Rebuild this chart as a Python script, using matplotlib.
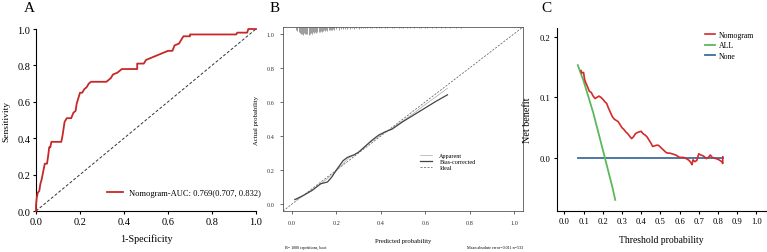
import matplotlib
matplotlib.use("Agg")
import matplotlib.pyplot as plt

plt.rcParams['font.family'] = ['Liberation Serif', 'DejaVu Serif']

# ---------------- Panel A: ROC ----------------
roc_fpr = [0.0, 0.0, 0.003, 0.008, 0.015, 0.02, 0.025, 0.03, 0.035, 0.04, 0.05, 0.055, 0.06, 0.065,
           0.07, 0.115, 0.12, 0.125, 0.13, 0.14, 0.16, 0.17, 0.18, 0.185, 0.19, 0.20, 0.21, 0.22,
           0.23, 0.24, 0.25, 0.32, 0.33, 0.34, 0.35, 0.37, 0.38, 0.39, 0.46, 0.46, 0.49, 0.50,
           0.52, 0.54, 0.56, 0.58, 0.60, 0.62, 0.63, 0.65, 0.66, 0.67, 0.70, 0.70, 0.91, 0.915,
           0.96, 0.965, 1.0]
roc_tpr = [0.0, 0.03, 0.07, 0.10, 0.11, 0.15, 0.17, 0.20, 0.23, 0.26, 0.26, 0.30, 0.35, 0.35,
           0.38, 0.38, 0.41, 0.45, 0.49, 0.51, 0.51, 0.54, 0.55, 0.59, 0.61, 0.65, 0.65, 0.67,
           0.68, 0.70, 0.71, 0.71, 0.72, 0.73, 0.75, 0.76, 0.77, 0.78, 0.78, 0.81, 0.81, 0.83,
           0.84, 0.85, 0.86, 0.87, 0.88, 0.88, 0.91, 0.92, 0.94, 0.96, 0.96, 0.97, 0.97, 0.98,
           0.98, 1.0, 1.0]
roc_label = "Nomogram-AUC: 0.769(0.707, 0.832)"
roc_ticks = [0.0, 0.2, 0.4, 0.6, 0.8, 1.0]

# ---------------- Panel B: calibration ----------------
cal_app_x = [0.02, 0.10, 0.15, 0.20, 0.25, 0.30, 0.35, 0.40, 0.45, 0.50, 0.55, 0.60, 0.65, 0.70]
cal_app_y = [0.025, 0.09, 0.14, 0.195, 0.265, 0.305, 0.36, 0.405, 0.445, 0.49, 0.535, 0.585, 0.632, 0.68]
cal_bc_x = [0.013, 0.05, 0.09, 0.13, 0.16, 0.18, 0.20, 0.23, 0.25, 0.28, 0.30, 0.33, 0.36, 0.39,
            0.42, 0.45, 0.50, 0.55, 0.60, 0.65, 0.70]
cal_bc_y = [0.027, 0.05, 0.08, 0.12, 0.13, 0.16, 0.20, 0.255, 0.275, 0.29, 0.305, 0.34, 0.375, 0.405,
            0.425, 0.44, 0.485, 0.525, 0.565, 0.605, 0.642]
rug_x = [0.02, 0.025, 0.03, 0.035, 0.04, 0.045, 0.05, 0.055, 0.06, 0.065, 0.07, 0.075, 0.08, 0.085,
         0.09, 0.095, 0.10, 0.105, 0.11, 0.115, 0.12, 0.125, 0.13, 0.135, 0.14, 0.145, 0.15, 0.155,
         0.16, 0.165, 0.17, 0.175, 0.18, 0.185, 0.19, 0.20, 0.21, 0.22, 0.23, 0.24, 0.25, 0.26,
         0.27, 0.28, 0.29, 0.30, 0.31, 0.32, 0.33, 0.34, 0.35, 0.36, 0.38, 0.39, 0.40, 0.42, 0.43,
         0.45, 0.46, 0.48, 0.49, 0.50, 0.52, 0.53, 0.55, 0.57, 0.58, 0.60, 0.61, 0.63, 0.65, 0.67,
         0.69, 0.71, 0.74, 0.76]
rug_h = [0.4, 0.55, 0.7, 0.8, 0.85, 0.9, 1.0, 0.8, 0.9, 0.95, 0.85, 1.0, 0.9, 0.75,
         0.85, 0.7, 0.8, 0.6, 0.75, 0.65, 0.6, 0.7, 0.5, 0.6, 0.55, 0.45, 0.5, 0.45,
         0.5, 0.35, 0.4, 0.35, 0.4, 0.3, 0.35, 0.3, 0.35, 0.25, 0.3, 0.2, 0.25, 0.2,
         0.15, 0.2, 0.15, 0.2, 0.1, 0.15, 0.1, 0.12, 0.08, 0.1, 0.1, 0.08, 0.1, 0.08, 0.1,
         0.08, 0.1, 0.08, 0.1, 0.08, 0.1, 0.08, 0.1, 0.08, 0.1, 0.08, 0.1, 0.08, 0.1, 0.08,
         0.1, 0.08, 0.1, 0.12]
cal_ticks = [0.0, 0.2, 0.4, 0.6, 0.8, 1.0]

# ---------------- Panel C: DCA ----------------
dca_x = [0.087, 0.09, 0.10, 0.105, 0.11, 0.12, 0.13, 0.14, 0.15, 0.16, 0.17, 0.18, 0.19, 0.20,
         0.21, 0.22, 0.23, 0.24, 0.25, 0.26, 0.27, 0.28, 0.29, 0.30, 0.31, 0.32, 0.33, 0.34,
         0.35, 0.36, 0.37, 0.38, 0.39, 0.40, 0.41, 0.42, 0.43, 0.44, 0.45, 0.46, 0.47, 0.48,
         0.49, 0.50, 0.51, 0.52, 0.53, 0.54, 0.55, 0.56, 0.57, 0.58, 0.59, 0.60, 0.61, 0.62,
         0.63, 0.64, 0.65, 0.66, 0.665, 0.67, 0.68, 0.69, 0.70, 0.71, 0.72, 0.73, 0.74, 0.75,
         0.76, 0.77, 0.78, 0.79, 0.80, 0.81, 0.82, 0.825, 0.825]
dca_nomo = [0.144, 0.140, 0.141, 0.13, 0.125, 0.118, 0.11, 0.108, 0.102, 0.098, 0.100, 0.102, 0.100,
            0.097, 0.093, 0.090, 0.082, 0.075, 0.068, 0.064, 0.062, 0.060, 0.055, 0.050, 0.047,
            0.043, 0.040, 0.036, 0.032, 0.035, 0.040, 0.042, 0.043, 0.044, 0.040, 0.038, 0.035,
            0.030, 0.025, 0.019, 0.020, 0.021, 0.021, 0.018, 0.015, 0.012, 0.009, 0.008, 0.008,
            0.007, 0.006, 0.005, 0.003, 0.001, 0.001, 0.001, 0.0, -0.002, -0.004, -0.008, -0.011,
            -0.003, -0.006, -0.004, 0.007, 0.005, 0.004, 0.002, -0.001, 0.001, 0.005, 0.001, 0.0,
            -0.001, -0.002, -0.004, -0.006, -0.009, 0.002]
all_x = [0.07, 0.10, 0.15, 0.20, 0.25, 0.265]
all_y = [0.153, 0.127, 0.075, 0.014, -0.048, -0.069]
none_x = [0.07, 0.825]
none_y = [0.0, 0.0]
dca_xticks = [0.0, 0.1, 0.2, 0.3, 0.4, 0.5, 0.6, 0.7, 0.8, 0.9, 1.0]
dca_yticks = [0.0, 0.1, 0.2]

W, H = 767, 253
fig = plt.figure(figsize=(W / 100, H / 100), dpi=100)
fig.patch.set_facecolor('white')


def ax_at(l, r, t, b):
    return fig.add_axes([l / W, 1 - b / H, (r - l) / W, (b - t) / H])


# ---- A ----
axA = ax_at(36, 256, 30, 212)
axA.plot([0, 1], [0, 1], ls=(0, (3, 2)), color='#333333', lw=0.7)
axA.plot(roc_fpr, roc_tpr, color='#C62828', lw=1.3, label=roc_label, clip_on=False, zorder=3)
axA.set_xlim(0, 1)
axA.set_ylim(0, 1)
axA.set_xticks(roc_ticks)
axA.set_yticks(roc_ticks)
axA.set_xticklabels([f"{t:.1f}" for t in roc_ticks])
axA.set_yticklabels([f"{t:.1f}" for t in roc_ticks])
for s in ['top', 'right']:
    axA.spines[s].set_visible(False)
for s in ['left', 'bottom']:
    axA.spines[s].set_linewidth(0.8)
axA.tick_params(labelsize=7.5, length=2.5, width=0.8, pad=1.5)
axA.set_xlabel("1-Specificity", fontsize=7.3)
axA.set_ylabel("Sensitivity", fontsize=6.8)
axA.xaxis.set_label_coords(0.5, -0.125)
axA.yaxis.set_label_coords(-0.118, 0.5)
axA.legend(loc='center right', bbox_to_anchor=(1.02, 0.099), frameon=False, fontsize=6.1,
           handlelength=1.9, handletextpad=0.6, borderpad=0, borderaxespad=0)

# ---- B ----
axB = ax_at(283, 523, 28, 212)
lim = (-0.04, 1.04)
axB.plot(lim, lim, ls=(0, (3, 2)), color='#555555', lw=0.5, label='Ideal', zorder=1)
axB.plot(cal_app_x, cal_app_y, color='#AAAAAA', lw=0.5, label='Apparent', zorder=2)
axB.plot(cal_bc_x, cal_bc_y, color='#444444', lw=0.9, label='Bias-corrected', zorder=3)
axB.vlines(rug_x, [1.04 - 0.045 * h for h in rug_h], 1.04, color='#8C8C8C', lw=0.6)
axB.set_xlim(*lim)
axB.set_ylim(*lim)
axB.set_xticks(cal_ticks)
axB.set_yticks(cal_ticks)
axB.set_xticklabels([f"{t:.1f}" for t in cal_ticks])
axB.set_yticklabels([f"{t:.1f}" for t in cal_ticks])
for s in axB.spines.values():
    s.set_linewidth(0.6)
    s.set_color('#555555')
axB.tick_params(labelsize=4.5, length=2.2, width=0.5, pad=4, colors='#333333')
axB.set_xlabel("Predicted probability", fontsize=4.8)
axB.set_ylabel("Actual probability", fontsize=4.8)
axB.xaxis.set_label_coords(0.5, -0.145)
axB.yaxis.set_label_coords(-0.1, 0.5)
hB, lB = axB.get_legend_handles_labels()
order = [lB.index('Apparent'), lB.index('Bias-corrected'), lB.index('Ideal')]
axB.legend([hB[i] for i in order], [lB[i] for i in order], loc='upper left',
           bbox_to_anchor=(0.57, 0.318), frameon=False, fontsize=4.4, handlelength=2.0,
           handletextpad=1.2, labelspacing=0.15, borderpad=0, borderaxespad=0)
fig.text(285 / W, 1 - 248 / H, "B= 1000 repetitions, boot", fontsize=3, ha='left', va='center')
fig.text(523 / W, 1 - 248 / H, "Mean absolute error=0.011 n=533", fontsize=3, ha='right', va='center')

# ---- C ----
axC = ax_at(556.7, 766.7, 29.3, 212)
axC.plot(none_x, none_y, color='#3E6D9C', lw=1.3, label='None', zorder=2)
axC.plot(all_x, all_y, color='#5CB85C', lw=1.3, label='ALL', zorder=2)
axC.plot(dca_x, dca_nomo, color='#D42A2A', lw=1.2, label='Nomogram', zorder=3)
axC.set_xlim(-0.04, 1.054)
axC.set_ylim(-0.0873, 0.2137)
axC.set_xticks(dca_xticks)
axC.set_yticks(dca_yticks)
axC.set_xticklabels([f"{t:.1f}" for t in dca_xticks])
axC.set_yticklabels([f"{t:.1f}" for t in dca_yticks])
for s in ['top', 'right']:
    axC.spines[s].set_visible(False)
for s in ['left', 'bottom']:
    axC.spines[s].set_linewidth(0.8)
axC.tick_params(labelsize=6.2, length=2.5, width=0.8, pad=2)
axC.set_xlabel("Threshold probability", fontsize=6.9)
axC.set_ylabel("Net benefit", fontsize=7.3)
axC.xaxis.set_label_coords(0.5, -0.13)
axC.yaxis.set_label_coords(-0.12, 0.5)
hC, lC = axC.get_legend_handles_labels()
orderC = [lC.index('Nomogram'), lC.index('ALL'), lC.index('None')]
axC.legend([hC[i] for i in orderC], [lC[i] for i in orderC], loc='upper left',
           bbox_to_anchor=(0.705, 0.985), frameon=False, fontsize=5.6, handlelength=1.3,
           handletextpad=0.5, labelspacing=0.3, borderpad=0, borderaxespad=0)

# ---- panel letters ----
fig.text(29 / W, 1 - 8 / H, "A", fontsize=11, ha='center', va='center')
fig.text(275 / W, 1 - 8 / H, "B", fontsize=11, ha='center', va='center')
fig.text(546 / W, 1 - 8 / H, "C", fontsize=11, ha='center', va='center')

fig.savefig("out.png", dpi=100, facecolor='white')
